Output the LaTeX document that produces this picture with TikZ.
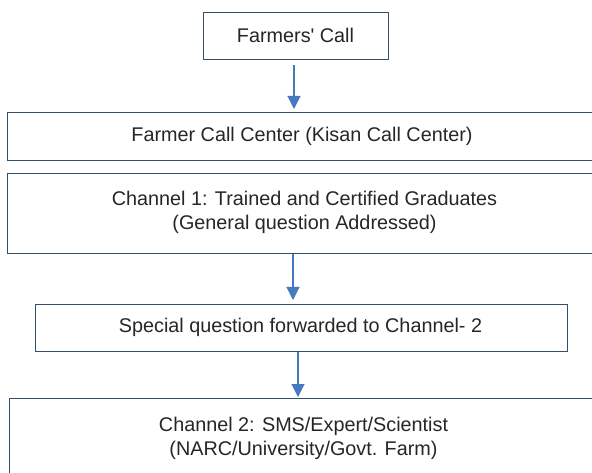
\documentclass[tikz,border=0pt]{standalone}
\usepackage{fontspec}
\setmainfont{Liberation Sans}
\usetikzlibrary{arrows.meta}
\definecolor{boxline}{RGB}{52,78,110}
\definecolor{arrowblue}{RGB}{70,122,190}
\definecolor{txt}{RGB}{38,38,38}
\begin{document}
\begin{tikzpicture}[x=1pt,y=-1pt,
  box/.style={draw=boxline, line width=1.4pt, fill=white, inner sep=0pt, anchor=north west},
  lbl/.style={text=txt, inner sep=0pt, align=center, font=\fontsize{19.8}{23.5}\selectfont},
  arr/.style={draw=arrowblue, line width=1.1pt, -{Triangle[width=13pt,length=13pt]}}]
\useasboundingbox (0,0) rectangle (592,473);
\clip (0,0) rectangle (592,473);
\fill[white] (0,0) rectangle (592,473);
% boxes
\node[box, minimum width=185pt, minimum height=47pt] (b1) at (203,12) {};
\node[box, minimum width=603pt, minimum height=48pt] (b2) at (7,112) {};
\node[box, minimum width=603pt, minimum height=80pt] (b3) at (7,173) {};
\node[box, minimum width=532pt, minimum height=47pt] (b4) at (35,304) {};
\node[box, minimum width=603pt, minimum height=92pt] (b5) at (9,398) {};
% texts
\node[lbl] (t1) at (295.5,35.5) {Farmers\textquotesingle{} Call};
\node[lbl] (t2) at (302,136) {Farmer Call Center (Kisan Call Center)};
\node[lbl] (t3) at (304.5,212.5) {Channel 1: Trained and Certified Graduates\\(General question Addressed)};
\node[lbl] (t4) at (300.5,327.5) {Special question forwarded to Channel- 2};
\node[lbl] (t5) at (303.5,438.5) {Channel 2: SMS/Expert/Scientist\\(NARC/University/Govt. Farm)};
% connector columns
\coordinate (c1) at (294,0);
\coordinate (c2) at (293,0);
\coordinate (c3) at (298,0);
\draw[arr, shorten <=5pt, shorten >=3pt] (c1 |- b1.south) -- (c1 |- b2.north);
\draw[arr, shorten >=4pt] (c2 |- b3.south) -- (c2 |- b4.north);
\draw[arr, shorten >=1pt] (c3 |- b4.south) -- (c3 |- b5.north);
\end{tikzpicture}
\end{document}
